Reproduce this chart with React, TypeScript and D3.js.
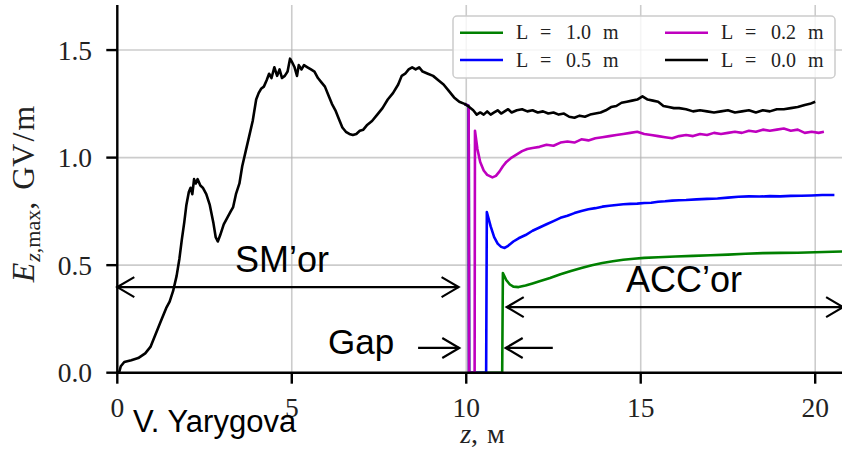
import React from 'react';
import * as d3 from 'd3';

// E_z,max vs z for different gap lengths L: [z (m), E (GV/m)]
const curveL00: [number, number][] = [
  [0.05, 0.0], [0.1, 0.03], [0.2, 0.05], [0.4, 0.058], [0.6, 0.068], [0.8, 0.09], [0.95, 0.12],
  [1.1, 0.18], [1.25, 0.24], [1.4, 0.3], [1.5, 0.33], [1.6, 0.38], [1.7, 0.45], [1.78, 0.53],
  [1.85, 0.62], [1.92, 0.7], [1.98, 0.78], [2.05, 0.84], [2.1, 0.86], [2.15, 0.83], [2.2, 0.9],
  [2.25, 0.88], [2.3, 0.9], [2.38, 0.87], [2.45, 0.86], [2.55, 0.83], [2.65, 0.78], [2.75, 0.7],
  [2.82, 0.63], [2.88, 0.61], [2.95, 0.64], [3.05, 0.69], [3.15, 0.72], [3.25, 0.75], [3.32, 0.77],
  [3.4, 0.83], [3.5, 0.88], [3.58, 0.96], [3.68, 1.03], [3.78, 1.1], [3.88, 1.17], [3.98, 1.27],
  [4.05, 1.3], [4.12, 1.32], [4.2, 1.33], [4.28, 1.36], [4.35, 1.39], [4.42, 1.37], [4.5, 1.42],
  [4.58, 1.38], [4.65, 1.41], [4.72, 1.37], [4.8, 1.38], [4.88, 1.4], [4.95, 1.46], [5.02, 1.44],
  [5.08, 1.42], [5.15, 1.38], [5.2, 1.43], [5.28, 1.41], [5.35, 1.43], [5.45, 1.42], [5.55, 1.41],
  [5.65, 1.4], [5.75, 1.37], [5.85, 1.35], [5.95, 1.33], [6.05, 1.29], [6.15, 1.25], [6.25, 1.22],
  [6.35, 1.18], [6.45, 1.14], [6.55, 1.12], [6.65, 1.11], [6.75, 1.105], [6.85, 1.11], [6.95, 1.125],
  [7.05, 1.13], [7.15, 1.15], [7.3, 1.17], [7.45, 1.2], [7.6, 1.23], [7.75, 1.27], [7.9, 1.3],
  [8.05, 1.34], [8.15, 1.38], [8.25, 1.39], [8.35, 1.41], [8.45, 1.42], [8.55, 1.41], [8.65, 1.42],
  [8.75, 1.4], [8.9, 1.39], [9.05, 1.38], [9.2, 1.36], [9.35, 1.34], [9.5, 1.31], [9.65, 1.28],
  [9.8, 1.26], [9.95, 1.25], [10.05, 1.24], [10.2, 1.22], [10.3, 1.2], [10.4, 1.21], [10.5, 1.2],
  [10.6, 1.215], [10.7, 1.2], [10.8, 1.21], [10.9, 1.22], [11.0, 1.205], [11.1, 1.215], [11.2, 1.225],
  [11.3, 1.21], [11.45, 1.22], [11.6, 1.225], [11.75, 1.215], [11.9, 1.22], [12.05, 1.21], [12.2, 1.215],
  [12.35, 1.205], [12.5, 1.21], [12.65, 1.2], [12.8, 1.205], [12.95, 1.19], [13.1, 1.185], [13.25, 1.195],
  [13.4, 1.19], [13.55, 1.2], [13.7, 1.205], [13.85, 1.21], [14.0, 1.22], [14.15, 1.235], [14.3, 1.24],
  [14.45, 1.255], [14.6, 1.26], [14.75, 1.265], [14.9, 1.27], [15.05, 1.285], [15.2, 1.27], [15.35, 1.265],
  [15.5, 1.26], [15.65, 1.24], [15.8, 1.235], [15.95, 1.23], [16.1, 1.23], [16.3, 1.225], [16.5, 1.215],
  [16.7, 1.22], [16.9, 1.215], [17.1, 1.21], [17.3, 1.215], [17.5, 1.22], [17.7, 1.21], [17.9, 1.215],
  [18.1, 1.22], [18.3, 1.21], [18.5, 1.22], [18.7, 1.215], [18.9, 1.225], [19.1, 1.225], [19.3, 1.23],
  [19.5, 1.235], [19.7, 1.245], [19.85, 1.25], [20.0, 1.26],
];

const curveL02: [number, number][] = [
  [9.95, 1.25], [10.07, 1.24], [10.08, 0], [10.24, 0], [10.25, 1.125], [10.32, 1.04], [10.4, 0.98],
  [10.5, 0.94], [10.6, 0.92], [10.75, 0.908], [10.85, 0.915], [10.95, 0.935], [11.05, 0.96],
  [11.15, 0.98], [11.3, 1.0], [11.45, 1.015], [11.6, 1.03], [11.75, 1.04], [11.9, 1.045], [12.1, 1.05],
  [12.3, 1.06], [12.5, 1.055], [12.7, 1.07], [12.9, 1.075], [13.1, 1.07], [13.3, 1.085], [13.5, 1.08],
  [13.7, 1.09], [13.9, 1.095], [14.1, 1.1], [14.3, 1.105], [14.5, 1.11], [14.7, 1.115], [14.9, 1.12],
  [15.1, 1.11], [15.3, 1.105], [15.5, 1.1], [15.7, 1.095], [15.9, 1.09], [16.1, 1.1], [16.3, 1.105],
  [16.5, 1.1], [16.7, 1.11], [16.9, 1.105], [17.1, 1.115], [17.3, 1.11], [17.5, 1.115], [17.7, 1.12],
  [17.9, 1.115], [18.1, 1.125], [18.3, 1.12], [18.5, 1.13], [18.7, 1.125], [18.9, 1.13], [19.1, 1.135],
  [19.3, 1.125], [19.5, 1.13], [19.7, 1.115], [19.9, 1.12], [20.1, 1.115], [20.25, 1.12],
];

const curveL05: [number, number][] = [
  [9.95, 1.25], [10.07, 1.24], [10.08, 0], [10.57, 0], [10.59, 0.747], [10.7, 0.68], [10.8, 0.63],
  [10.9, 0.6], [11.0, 0.585], [11.1, 0.58], [11.2, 0.59], [11.35, 0.61], [11.5, 0.625], [11.7, 0.64],
  [11.9, 0.66], [12.1, 0.675], [12.3, 0.69], [12.5, 0.705], [12.7, 0.72], [12.9, 0.73], [13.1, 0.742],
  [13.3, 0.752], [13.5, 0.76], [13.7, 0.765], [13.9, 0.772], [14.1, 0.776], [14.3, 0.78], [14.5, 0.783],
  [14.7, 0.785], [14.9, 0.786], [15.1, 0.789], [15.3, 0.79], [15.5, 0.795], [15.7, 0.797], [15.9, 0.8],
  [16.1, 0.802], [16.3, 0.803], [16.6, 0.806], [16.9, 0.808], [17.2, 0.81], [17.5, 0.814], [17.8, 0.818],
  [18.1, 0.82], [18.4, 0.819], [18.7, 0.821], [19.0, 0.82], [19.3, 0.822], [19.6, 0.823], [19.9, 0.824],
  [20.2, 0.826], [20.55, 0.826],
];

const curveL10: [number, number][] = [
  [9.95, 1.25], [10.07, 1.24], [10.08, 0], [11.03, 0], [11.05, 0.463], [11.15, 0.43], [11.25, 0.41],
  [11.35, 0.4], [11.5, 0.398], [11.7, 0.405], [11.9, 0.415], [12.1, 0.425], [12.4, 0.44], [12.7, 0.458],
  [13.0, 0.473], [13.3, 0.487], [13.6, 0.5], [13.9, 0.51], [14.2, 0.518], [14.5, 0.525], [14.8, 0.53],
  [15.1, 0.534], [15.5, 0.537], [16.0, 0.54], [16.5, 0.543], [17.0, 0.546], [17.5, 0.549], [18.0, 0.553],
  [18.5, 0.556], [19.0, 0.557], [19.5, 0.558], [20.0, 0.56], [20.5, 0.562], [20.95, 0.564],
];

const xTicks = [0, 5, 10, 15, 20];
const yTicks = [0.0, 0.5, 1.0, 1.5];

const series = [
  { label: '1.0', color: '#008000', data: curveL10 },
  { label: '0.5', color: '#0000ff', data: curveL05 },
  { label: '0.2', color: '#bf00bf', data: curveL02 },
  { label: '0.0', color: '#000000', data: curveL00 },
];

// annotation arrows in data coordinates
const arrows: { z1: number; z2: number; v: number; both: boolean }[] = [
  { z1: 9.78, z2: 0.0, v: 0.398, both: true },
  { z1: 11.16, z2: 20.8, v: 0.305, both: true },
  { z1: 8.62, z2: 9.8, v: 0.115, both: false },
  { z1: 12.48, z2: 11.13, v: 0.115, both: false },
];

const W = 842;
const H = 452;
const serif = '"Liberation Serif", "DejaVu Serif", serif';
const sans = '"Liberation Sans", Arial, sans-serif';

const x = d3.scaleLinear().domain([0, 20.94]).range([117.3, 848]);
const y = d3.scaleLinear().domain([0, 1.71]).range([372.7, 4.9]);

const line = d3
  .line<[number, number]>()
  .x((d) => x(d[0]))
  .y((d) => y(d[1]));

function head(tx: number, ty: number, dir: number) {
  // open arrow head, dir = +1 points right, -1 points left
  const len = 17;
  const hw = 10;
  return `M${tx - dir * len},${ty - hw}L${tx},${ty}L${tx - dir * len},${ty + hw}`;
}

export default function App() {
  const [x0, x1] = x.range();
  const [y0, y1] = y.range();

  // legend layout: column-major like matplotlib ncol=2
  const legendCells = [
    { s: series[0], lx: 460, ly: 32.7 },
    { s: series[1], lx: 460, ly: 60 },
    { s: series[2], lx: 665, ly: 32.7 },
    { s: series[3], lx: 665, ly: 60 },
  ];

  return (
    <svg
      width={W}
      height={H}
      style={{ position: 'fixed', left: 0, top: 0, background: '#fff' }}
    >
      <rect width={W} height={H} fill="#fff" />
      <defs>
        <clipPath id="plot">
          <rect x={x0} y={y1} width={x1 - x0} height={y0 - y1} />
        </clipPath>
      </defs>

      {/* grid */}
      <g stroke="#b0b0b0" strokeOpacity={0.65} strokeWidth={1.6}>
        {xTicks.map((t) => (
          <line key={'gx' + t} x1={x(t)} x2={x(t)} y1={y1} y2={y0} />
        ))}
        {yTicks.map((t) => (
          <line key={'gy' + t} x1={x0} x2={x1} y1={y(t)} y2={y(t)} />
        ))}
      </g>

      {/* curves */}
      <g clipPath="url(#plot)" fill="none" strokeWidth={2.6} strokeLinejoin="round">
        {series.map((s) => (
          <path key={s.label} d={line(s.data) || ''} stroke={s.color} />
        ))}
      </g>

      {/* spines and ticks */}
      <g stroke="#000" strokeWidth={2.4}>
        <line x1={x0} x2={x0} y1={y1} y2={y0 + 1.2} />
        <line x1={x0 - 1.2} x2={x1} y1={y0} y2={y0} />
        {xTicks.map((t) => (
          <line key={'tx' + t} x1={x(t)} x2={x(t)} y1={y0} y2={y0 + 11} />
        ))}
        {yTicks.map((t) => (
          <line key={'ty' + t} x1={x0} x2={x0 - 11} y1={y(t)} y2={y(t)} />
        ))}
      </g>

      {/* tick labels */}
      <g fontFamily={serif} fontSize={27.5} fill="#222">
        {xTicks.map((t) => (
          <text key={'lx' + t} x={x(t)} y={417} textAnchor="middle">
            {t}
          </text>
        ))}
        {yTicks.map((t) => (
          <text key={'ly' + t} x={92} y={y(t) + 9.5} textAnchor="end">
            {d3.format('.1f')(t)}
          </text>
        ))}
      </g>

      {/* axis labels */}
      <text x={482.5} y={443} textAnchor="middle" fontFamily={serif} fontSize={28} fill="#222">
        <tspan fontStyle="italic">z</tspan>
        <tspan>,</tspan>
        <tspan dx={9}>м</tspan>
      </text>
      <text
        transform="translate(34,194) rotate(-90)"
        textAnchor="middle"
        fontFamily={serif}
        fontSize={32}
        fill="#222"
      >
        <tspan fontStyle="italic">E</tspan>
        <tspan fontSize={22} dx={1} dy={6} fontStyle="italic">z</tspan>
        <tspan fontSize={22}>,max</tspan>
        <tspan dy={-6}>,</tspan>
        <tspan dx={12}>GV</tspan>
        <tspan dx={2}>/</tspan>
        <tspan dx={2}>m</tspan>
      </text>

      {/* legend */}
      <rect
        x={453}
        y={16}
        width={382}
        height={62}
        rx={4}
        fill="#fff"
        fillOpacity={0.8}
        stroke="#cccccc"
        strokeWidth={1.5}
      />
      {legendCells.map(({ s, lx, ly }) => (
        <g key={'lg' + s.label}>
          <line x1={lx} x2={lx + 43} y1={ly} y2={ly} stroke={s.color} strokeWidth={2.6} />
          <g fontFamily={serif} fontSize={20} fill="#222">
            <text x={lx + 56} y={ly + 6.5}>L</text>
            <text x={lx + 80} y={ly + 6.5}>=</text>
            <text x={lx + 106} y={ly + 6.5}>{s.label}</text>
            <text x={lx + 143} y={ly + 6.5}>m</text>
          </g>
        </g>
      ))}

      {/* annotations */}
      <g stroke="#000" strokeWidth={2.2} fill="none">
        {arrows.map((a, i) => {
          const ax1 = x(a.z1);
          const ax2 = x(a.z2);
          const ay = y(a.v);
          const dir = ax2 > ax1 ? 1 : -1;
          return (
            <g key={'ar' + i}>
              <line x1={ax1} x2={ax2} y1={ay} y2={ay} />
              <path d={head(ax2, ay, dir)} />
              {a.both && <path d={head(ax1, ay, -dir)} />}
            </g>
          );
        })}
      </g>
      <g fontFamily={sans} fill="#000">
        <text x={235} y={272} fontSize={36}>SM’or</text>
        <text x={328} y={354} fontSize={35}>Gap</text>
        <text x={626} y={292} fontSize={36}>ACC’or</text>
        <text x={133} y={432} fontSize={31}>V. Yarygova</text>
      </g>
    </svg>
  );
}
